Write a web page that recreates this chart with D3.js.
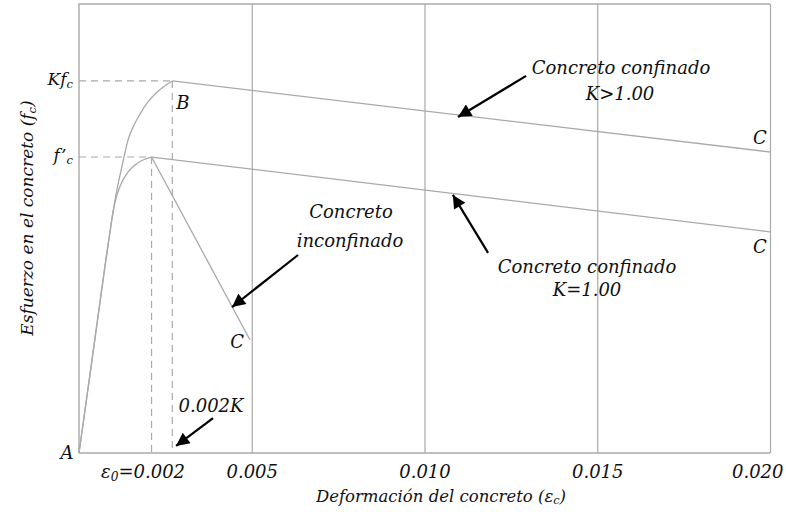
<!DOCTYPE html>
<html>
<head>
<meta charset="utf-8">
<script src="https://cdn.jsdelivr.net/npm/d3@7"></script>
<style>
  html, body { margin: 0; padding: 0; background: #fff; }
  svg text { font-family: "DejaVu Serif", serif; font-style: italic; fill: #111; }
</style>
</head>
<body>
<svg id="chart" width="786" height="512"></svg>
<script>
// Strain values (εc) and normalized stress values (fc / f'c)
const xTicks = [0.005, 0.010, 0.015, 0.020];
const eps0 = 0.0021;      // peak strain, unconfined
const epsK = 0.0027;      // peak strain, confined (0.002K)
const K = 1.257;          // confinement factor

// ascending branch, K = 1.00 (also unconfined)
const unconfStrain = [0, 0.000376, 0.000753, 0.000897, 0.000984, 0.0011, 0.001245, 0.001418, 0.001621, 0.001852, 0.0021];
const unconfStress = [0, 0.314, 0.632, 0.747, 0.814, 0.872, 0.916, 0.949, 0.973, 0.990, 1.0];
// descending branch of unconfined concrete
const spallStrain = [0.0021, 0.00495];
const spallStress = [1.0, 0.382];
// confined K = 1.00 descending branch
const k1Strain = [0.0021, 0.020];
const k1Stress = [1.0, 0.747];
// confined K > 1.00, ascending branch
const kStrain = [0, 0.000376, 0.000753, 0.000926, 0.00107, 0.001187, 0.001302, 0.001418, 0.001592, 0.001766, 0.001968, 0.0022, 0.002431, 0.0027];
const kStress = [0, 0.314, 0.632, 0.770, 0.872, 0.939, 1.0, 1.057, 1.108, 1.145, 1.182, 1.213, 1.236, 1.257];
// confined K > 1.00, descending branch
const kDescStrain = [0.0027, 0.020];
const kDescStress = [1.257, 1.017];

const svg = d3.select("#chart");
const mLeft = 79, mRight = 770, mTop = 4, mBottom = 453;
const x = d3.scaleLinear().domain([0, 0.02]).range([mLeft, mRight]);
const y = d3.scaleLinear().domain([0, 1.517]).range([mBottom, mTop]);

const grey = "#a9a9a9";

// vertical grid lines
const grid = svg.append("g")
  .attr("transform", `translate(0,${mBottom})`)
  .call(d3.axisBottom(x).tickValues(xTicks).tickSize(-(mBottom - mTop)).tickFormat(""));
grid.select(".domain").remove();
grid.selectAll("line").attr("stroke", grey).attr("stroke-width", 1.2);

// frame: left, top, bottom
svg.append("path")
  .attr("d", `M${mLeft},${mBottom}V${mTop}H${mRight}M${mLeft},${mBottom}H${mRight}`)
  .attr("fill", "none").attr("stroke", grey).attr("stroke-width", 1.4);

// x tick labels
const xAxis = svg.append("g")
  .attr("transform", `translate(0,${mBottom})`)
  .call(d3.axisBottom(x).tickValues(xTicks).tickSize(0).tickPadding(0).tickFormat(d3.format(".3f")));
xAxis.select(".domain").remove();
xAxis.selectAll("text")
  .attr("y", 25).attr("dy", 0)
  .style("font-family", "DejaVu Serif").style("font-style", "italic")
  .style("font-size", "18px").attr("fill", "#111")
  .attr("text-anchor", d => d === 0.02 ? "end" : "middle")
  .attr("x", d => d === 0.02 ? 13 : 0);

// dashed reference lines
const dash = svg.append("g").attr("stroke", grey).attr("stroke-width", 1.2)
  .attr("stroke-dasharray", "7,5").attr("fill", "none");
[[eps0, 1.0], [epsK, K]].forEach(([e, s]) => {
  dash.append("path").attr("d", `M${x(0)},${y(s)}H${x(e)}`);
  dash.append("path").attr("d", `M${x(e)},${y(s)}V${y(0)}`);
});

// curves
const smooth = d3.line().x(d => x(d[0])).y(d => y(d[1])).curve(d3.curveMonotoneX);
const straight = d3.line().x(d => x(d[0])).y(d => y(d[1]));
const curves = [
  {pts: d3.zip(unconfStrain, unconfStress), gen: smooth},
  {pts: d3.zip(kStrain, kStress), gen: smooth},
  {pts: d3.zip(spallStrain, spallStress), gen: straight},
  {pts: d3.zip(k1Strain, k1Stress), gen: straight},
  {pts: d3.zip(kDescStrain, kDescStress), gen: straight}
];
svg.append("g").selectAll("path").data(curves).join("path")
  .attr("d", d => d.gen(d.pts))
  .attr("fill", "none").attr("stroke", grey).attr("stroke-width", 1.3);

// arrows
svg.append("defs").append("marker")
  .attr("id", "head").attr("viewBox", "0 0 10 10").attr("refX", 10).attr("refY", 5)
  .attr("markerWidth", 7).attr("markerHeight", 6).attr("markerUnits", "strokeWidth")
  .attr("orient", "auto")
  .append("path").attr("d", "M0,0L10,5L0,10Z").attr("fill", "#000");

const arrows = [
  [[0.01294, 1.274], [0.01097, 1.135]],
  [[0.01184, 0.676], [0.01082, 0.872]],
  [[0.00634, 0.669], [0.00443, 0.493]],
  [[0.00388, 0.118], [0.00281, 0.024]]
];
svg.append("g").selectAll("line").data(arrows).join("line")
  .attr("x1", d => x(d[0][0])).attr("y1", d => y(d[0][1]))
  .attr("x2", d => x(d[1][0])).attr("y2", d => y(d[1][1]))
  .attr("stroke", "#000").attr("stroke-width", 2.2).attr("marker-end", "url(#head)");

// text labels
const fs = 18;
function label(px, py, parts, anchor = "middle", size = fs) {
  const t = svg.append("text").attr("x", px).attr("y", py)
    .attr("text-anchor", anchor).style("font-size", size + "px");
  parts.forEach(p => {
    if (typeof p === "string") t.append("tspan").text(p);
    else t.append("tspan").attr("baseline-shift", "-22%").style("font-size", (size * 0.68) + "px").text(p.sub);
  });
  return t;
}

label(621, 74, ["Concreto confinado"]);
label(620, 100, ["K>1.00"]);
label(587, 273, ["Concreto confinado"]);
label(587, 296, ["K=1.00"]);
label(351, 218, ["Concreto"]);
label(350, 247, ["inconfinado"]);

label(x(spallStrain[1]) - 13, y(spallStress[1]) + 8, ["C"]);
label(x(0.02) - 10, y(kDescStress[1]) - 8, ["C"]);
label(x(0.02) - 10, y(k1Stress[1]) + 21, ["C"]);
label(x(epsK) + 4, y(K) + 28, ["B"], "start");
label(x(0) - 12, y(0) + 6, ["A"], "middle");

label(x(0) - 6, y(K) + 4, ["Kf", {sub: "c"}], "end", 17);
label(x(0) - 6, y(1.0) + 4, ["f’", {sub: "c"}], "end", 17);

label(211, 412, ["0.002K"]);
label(143, 478, ["ε", {sub: "0"}, "=0.002"]);

label(441, 502, ["Deformación del concreto (ε", {sub: "c"}, ")"], "middle", 16.5);

svg.append("text")
  .attr("transform", "translate(33,218) rotate(-90)")
  .attr("text-anchor", "middle").style("font-size", "17px")
  .call(t => {
    t.append("tspan").text("Esfuerzo en el concreto (f");
    t.append("tspan").attr("baseline-shift", "-22%").style("font-size", "11.5px").text("c");
    t.append("tspan").text(")");
  });
</script>
</body>
</html>
